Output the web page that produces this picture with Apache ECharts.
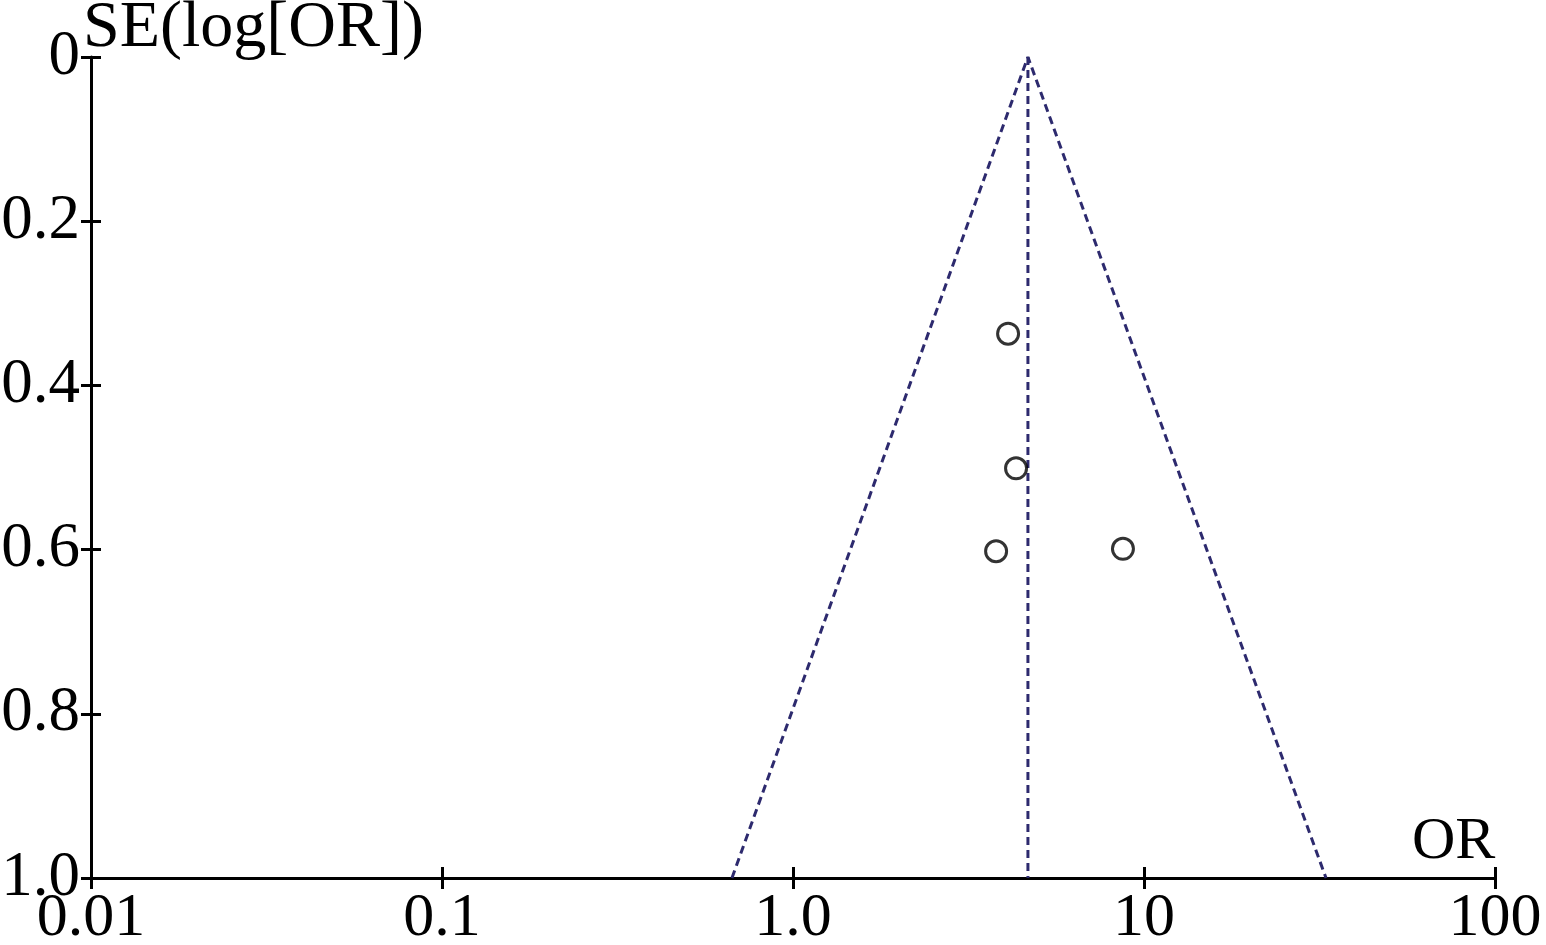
<!DOCTYPE html>
<html>
<head>
<meta charset="utf-8">
<script src="https://cdn.jsdelivr.net/npm/echarts@6/dist/echarts.min.js"></script>
<style>
html,body{margin:0;padding:0;background:#fff;}
#chart{width:1546px;height:945px;}
</style>
</head>
<body>
<div id="chart"></div>
<script>
// Data
const studyOR = [4.10, 4.32, 3.79, 8.71];
const studySE = [0.337, 0.501, 0.602, 0.599];
const funnelOR = [0.67, 4.67, 33.0];
const funnelSE = [1.0, 0, 1.0];
const pooledLineOR = [4.67, 4.67];
const pooledLineSE = [0, 1.0];
const xTickLabels = {0.01: '0.01', 0.1: '0.1', 1: '1.0', 10: '10', 100: '100'};
const yTickLabels = {0: '0', 0.2: '0.2', 0.4: '0.4', 0.6: '0.6', 0.8: '0.8', 1: '1.0'};

const FONT = "'Liberation Serif', 'DejaVu Serif', serif";
const lineColor = '#2d2a6e';

const chart = echarts.init(document.getElementById('chart'));

function xLab(v) {
  const key = Object.keys(xTickLabels).find(k => Math.abs(Math.log10(+k) - Math.log10(v)) < 1e-6);
  return key !== undefined ? xTickLabels[key] : '';
}
function yLab(v) {
  const key = Object.keys(yTickLabels).find(k => Math.abs(+k - v) < 1e-6);
  return key !== undefined ? yTickLabels[key] : '';
}

const axisLine = {show: true, onZero: false, lineStyle: {color: '#000', width: 3}};

option = {
  animation: false,
  backgroundColor: '#fff',
  grid: {left: 91, right: 51, top: 57, bottom: 67, containLabel: false, outerBoundsMode: 'none'},
  xAxis: [{
    type: 'log', logBase: 10, min: 0.01, max: 100, position: 'bottom',
    name: 'OR', nameLocation: 'end', nameGap: -83, nameMoveOverlap: false,
    nameTextStyle: {fontFamily: FONT, fontSize: 60, color: '#000', verticalAlign: 'bottom', align: 'left', padding: [0, 0, 6, 0]},
    axisLine: axisLine,
    axisTick: {show: true, length: 11, inside: false, lineStyle: {color: '#000', width: 3}},
    axisLabel: {fontFamily: FONT, fontSize: 62, color: '#000', margin: 10, formatter: xLab, showMinLabel: true, showMaxLabel: true, hideOverlap: false},
    splitLine: {show: false}
  }, {
    type: 'log', logBase: 10, min: 0.01, max: 100, position: 'bottom',
    axisLine: {show: false, onZero: false},
    axisTick: {show: true, length: 11, inside: true, lineStyle: {color: '#000', width: 3}},
    axisLabel: {show: false},
    splitLine: {show: false}
  }],
  yAxis: [{
    type: 'value', inverse: true, min: 0, max: 1, interval: 0.2, position: 'left',
    name: 'SE(log[OR])', nameLocation: 'start', nameGap: -5, nameMoveOverlap: false,
    nameTextStyle: {fontFamily: FONT, fontSize: 66, color: '#000', align: 'left', verticalAlign: 'bottom', padding: [0, 0, 0, -8]},
    axisLine: axisLine,
    axisTick: {show: true, length: 10, inside: false, lineStyle: {color: '#000', width: 3}},
    axisLabel: {fontFamily: FONT, fontSize: 63, color: '#000', margin: 11, formatter: yLab, showMinLabel: true, showMaxLabel: true, hideOverlap: false},
    splitLine: {show: false}
  }, {
    type: 'value', inverse: true, min: 0, max: 1, interval: 0.2, position: 'left',
    axisLine: {show: false, onZero: false},
    axisTick: {show: true, length: 10, inside: true, lineStyle: {color: '#000', width: 3}},
    axisLabel: {show: false},
    splitLine: {show: false}
  }],
  series: [
    {
      type: 'line', name: 'funnel',
      data: funnelOR.map((v, i) => [v, funnelSE[i]]),
      symbol: 'none',
      lineStyle: {color: lineColor, width: 3, type: [8, 5]},
      z: 2
    },
    {
      type: 'line', name: 'pooled',
      data: pooledLineOR.map((v, i) => [v, pooledLineSE[i]]),
      symbol: 'none',
      lineStyle: {color: lineColor, width: 3, type: [8, 5]},
      z: 2
    },
    {
      type: 'scatter', name: 'studies',
      data: studyOR.map((v, i) => [v, studySE[i]]),
      symbol: 'circle', symbolSize: 21,
      itemStyle: {color: 'rgba(255,255,255,0)', borderColor: '#000', borderWidth: 3},
      z: 3
    }
  ]
};
chart.setOption(option);
</script>
</body>
</html>
